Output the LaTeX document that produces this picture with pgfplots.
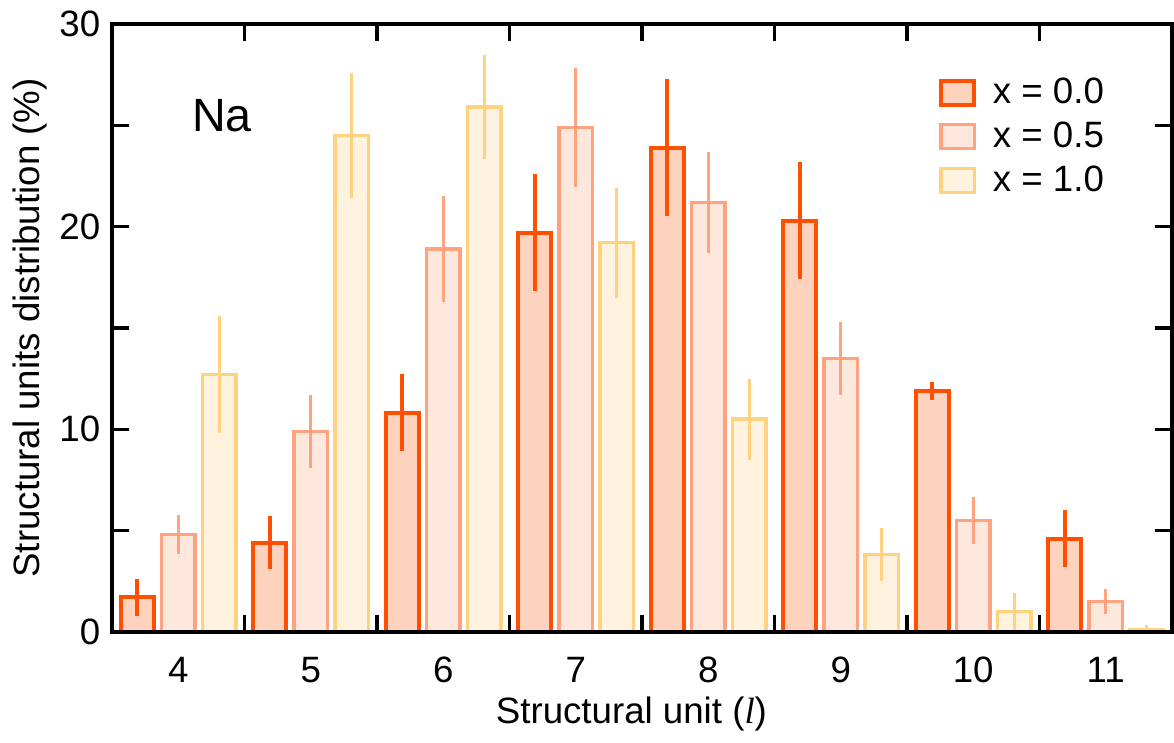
\documentclass[border=0pt]{standalone}
\usepackage{pgfplots}
\usepackage{pgfplotstable}
\pgfplotsset{compat=1.18}
\usepackage{fontspec}
\setmainfont{Liberation Sans}
\newfontfamily\seriffont{Liberation Serif}
\definecolor{cAe}{HTML}{FF4F00}
\definecolor{cAf}{HTML}{FDD3BE}
\definecolor{cBe}{HTML}{FFA27E}
\definecolor{cBf}{HTML}{FEE8DE}
\definecolor{cCe}{HTML}{FFD27F}
\definecolor{cCf}{HTML}{FFF3DF}
\pgfplotstableread{
l  v     e
4  1.7   0.9
5  4.4   1.3
6  10.8  1.9
7  19.7  2.9
8  23.9  3.4
9  20.3  2.9
10 11.9  0.45
11 4.6   1.4
}\dataA
\pgfplotstableread{
l  v     e
4  4.8   0.95
5  9.9   1.8
6  18.9  2.6
7  24.9  2.95
8  21.2  2.5
9  13.5  1.8
10 5.5   1.15
11 1.5   0.6
}\dataB
\pgfplotstableread{
l  v     e
4  12.7  2.9
5  24.5  3.1
6  25.9  2.55
7  19.2  2.7
8  10.5  2.0
9  3.8   1.3
10 1.0   0.9
11 0.1   0.25
}\dataC
\begin{document}
\begin{tikzpicture}
\begin{axis}[
  width=318pt, height=182.3pt, scale only axis,
  xmin=3.5, xmax=11.5, ymin=0, ymax=30,
  axis on top,
  axis line style={line width=1.2pt},
  xtick={4,...,11},
  minor xtick={4.5,5.5,...,10.5},
  major x tick style={draw=none},
  xtick pos=both, xticklabel pos=lower,
  ytick={0,5,...,30}, yticklabels={0,,10,,20,,30},
  ytick pos=both, yticklabel pos=left,
  tick align=inside, major tick length=5pt, minor tick length=5pt,
  tick style={line width=1pt, black},
  /pgf/number format/assume math mode=true,
  tick label style={font=\fontsize{11}{13}\selectfont},
  xticklabel style={yshift=-4pt},
  label style={font=\fontsize{11}{13}\selectfont},
  xlabel={Structural unit ({\seriffont\itshape l})},
  ylabel={Structural units distribution (\%)},
  xlabel style={at={(axis description cs:0.49,-0.136)}, anchor=center},
  ylabel style={at={(axis description cs:-0.0774,0.5)}, anchor=center},
  legend style={at={(axis description cs:0.77,0.935)}, anchor=north west,
    draw=none, fill=none, font=\fontsize{11}{13}\selectfont, row sep=0pt,
    /tikz/every odd column/.append style={column sep=3pt}},
  legend cell align=left,
]
\addlegendimage{legend image code/.code={\draw[draw=cAe, fill=cAf, line width=1.2pt] (0pt,-3.6pt) rectangle (10pt,3.6pt);}}
\addlegendentry{x = 0.0}
\addlegendimage{legend image code/.code={\draw[draw=cBe, fill=cBf, line width=1pt] (0pt,-3.6pt) rectangle (10pt,3.6pt);}}
\addlegendentry{x = 0.5}
\addlegendimage{legend image code/.code={\draw[draw=cCe, fill=cCf, line width=1pt] (0pt,-3.6pt) rectangle (10pt,3.6pt);}}
\addlegendentry{x = 1.0}

\addplot[forget plot, ybar, bar width=10pt, bar shift=0pt, draw=cAe, fill=cAf, line width=1.2pt,
  error bars/.cd, y dir=both, y explicit, error mark=none,
  error bar style={line width=1.2pt, cAe}]
  table[x expr=\thisrow{l}-0.31, y=v, y error=e] {\dataA};

\addplot[forget plot, ybar, bar width=10pt, bar shift=0pt, draw=cBe, fill=cBf, line width=1pt,
  error bars/.cd, y dir=both, y explicit, error mark=none,
  error bar style={line width=1pt, cBe}]
  table[x=l, y=v, y error=e] {\dataB};

\addplot[forget plot, ybar, bar width=10pt, bar shift=0pt, draw=cCe, fill=cCf, line width=1pt,
  error bars/.cd, y dir=both, y explicit, error mark=none,
  error bar style={line width=1pt, cCe}]
  table[x expr=\thisrow{l}+0.31, y=v, y error=e] {\dataC};

\node[font=\fontsize{14}{16}\selectfont] at (axis cs:4.33,25.5) {Na};
\end{axis}
\path (current axis.south west) +(-33.6pt,-33.2pt) (current axis.north east) +(0.6pt,6.45pt);
\end{tikzpicture}
\end{document}
